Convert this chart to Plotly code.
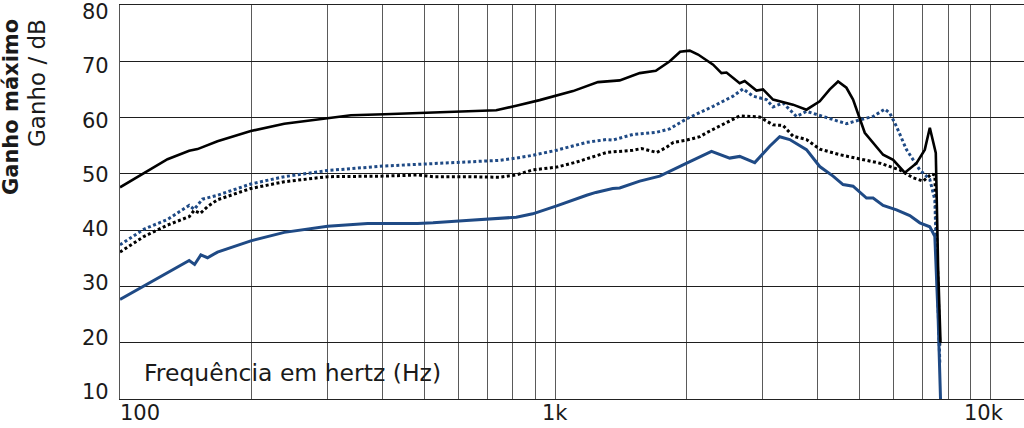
import math
import plotly.graph_objects as go

# ---------------- data ----------------
# Black solid curve
f_black_solid = [100, 113.7, 128.6, 144.2, 150.7, 167.5, 199.8, 238.5, 300, 339.4, 405, 483,
                 524, 625, 732, 814, 921, 1099, 1254, 1407, 1564, 1703, 1834, 1937, 2038, 2130,
                 2307, 2411, 2476, 2655, 2726, 2901, 3004, 3167, 3520, 3780, 4055, 4276, 4468,
                 4670, 4837, 5146, 5378, 5670, 5979, 6359, 6766, 7070, 7260, 7493, 7585, 7683]
g_black_solid = [47.6, 50.2, 52.6, 54.1, 54.4, 55.8, 57.6, 58.9, 59.9, 60.4, 60.6, 60.8,
                 61.0, 61.2, 61.3, 62.1, 63.1, 64.7, 66.3, 66.6, 67.9, 68.3, 70.0, 71.7, 71.9, 71.2,
                 69.4, 67.9, 68.0, 66.1, 66.5, 64.8, 65.0, 63.2, 62.3, 61.4, 62.9, 65.0, 66.4,
                 65.3, 63.2, 57.3, 55.5, 53.4, 52.5, 50.2, 51.9, 54.3, 58.2, 53.7, 33.6, 20.0]

# Blue dotted curve
f_blue_dot = [100, 113.7, 128.6, 144.2, 148.1, 154.7, 167.5, 199.8, 238.5, 300, 405, 483, 524,
              625, 745, 814, 888, 1008, 1181, 1313, 1356, 1508, 1712, 1834, 2006, 2307, 2563,
              2702, 2849, 3058, 3167, 3339, 3584, 3780, 4127, 4670, 5012, 5378, 5721, 5875,
              6087, 6417, 6885, 7260, 7455, 7654]
g_blue_dot = [37.4, 40.2, 41.9, 44.4, 43.7, 45.5, 46.2, 48.2, 49.5, 50.6, 51.4, 51.7, 51.9,
              52.2, 52.4, 52.8, 53.3, 54.2, 55.6, 56.1, 56.0, 57.0, 57.4, 58.0, 59.8, 62.0, 63.8,
              65.1, 63.8, 63.2, 61.9, 62.6, 60.2, 61.1, 60.2, 58.9, 59.6, 60.2, 61.5, 60.8,
              58.4, 54.3, 50.7, 49.0, 45.4, 16.4]

# Black dotted curve
f_black_dot = [100, 113.7, 128.6, 144.2, 148, 153, 159, 167.5, 199.8, 238.5, 300, 405, 483,
               524, 625, 745, 814, 888, 1008, 1120, 1313, 1508, 1580, 1712, 1800, 1870, 2006,
               2150, 2227, 2655, 2952, 3167, 3339, 3520, 3780, 4055, 4508, 5012, 5572, 6194,
               6645, 7007, 7325, 7455, 7654]
g_black_dot = [36.1, 38.9, 40.9, 42.4, 43.5, 43.0, 44.2, 45.4, 47.4, 48.6, 49.5, 49.6, 49.8,
               49.5, 49.5, 49.4, 49.8, 50.7, 51.2, 52.1, 53.8, 54.2, 54.5, 53.8, 54.7, 55.6, 56.0,
               56.6, 57.3, 60.3, 60.1, 58.7, 58.6, 56.7, 56.1, 54.4, 53.4, 52.6, 51.9, 50.7,
               49.3, 48.7, 50.0, 49.8, 19.4]

# Blue solid curve
f_blue_solid = [100, 113.7, 128.6, 144.2, 148.4, 153.4, 158.9, 167.5, 199.8, 238.5, 300, 370.7,
                483, 524, 625, 732, 814, 888, 1008, 1181, 1240, 1356, 1407, 1564, 1739, 2006,
                2287, 2518, 2655, 2875, 3112, 3281, 3459, 3780, 4055, 4351, 4587, 4837, 5193,
                5378, 5670, 6087, 6530, 6885, 7260, 7455, 7585, 7683]
g_blue_solid = [27.7, 30.1, 32.5, 34.6, 33.9, 35.6, 35.1, 36.1, 38.1, 39.6, 40.7, 41.2,
                41.2, 41.3, 41.7, 42.0, 42.3, 42.9, 44.3, 46.2, 46.7, 47.4, 47.5, 48.7, 49.6, 51.9,
                54.0, 52.8, 53.1, 52.0, 54.9, 56.6, 56.1, 54.3, 51.3, 49.6, 48.1, 47.8, 45.7,
                45.7, 44.4, 43.6, 42.6, 41.3, 40.6, 38.9, 24.7, 10.0]

grid_freqs = [100, 200, 300, 400, 500, 600, 700, 800, 900,
              1000, 2000, 3000, 4000, 5000, 6000, 7000, 8000, 9000, 10000]
x_tick_vals = [100, 1000, 10000]
x_tick_text = ["100", "1k", "10k"]
y_ticks = [10, 20, 30, 40, 50, 60, 70, 80]
x_max = 11950
box_right_freq = 600

y_title_bold = "Ganho máximo"
y_title = "Ganho / dB"
box_label = "Frequência em hertz (Hz)"

# ---------------- style ----------------
BLUE = "#1f4a85"
BLACK = "#000000"
FONT = "DejaVu Sans"
TICK_SIZE = 21
TXT = "#1a1a1a"

fig = go.Figure()
fig.add_trace(go.Scatter(x=f_black_dot, y=g_black_dot, mode="lines",
                         line=dict(color=BLACK, width=3, dash="3px,2.5px")))
fig.add_trace(go.Scatter(x=f_blue_dot, y=g_blue_dot, mode="lines",
                         line=dict(color=BLUE, width=3, dash="3px,2.5px")))
fig.add_trace(go.Scatter(x=f_blue_solid, y=g_blue_solid, mode="lines",
                         line=dict(color=BLUE, width=3)))
fig.add_trace(go.Scatter(x=f_black_solid, y=g_black_solid, mode="lines",
                         line=dict(color=BLACK, width=2.6)))

fig.update_xaxes(type="log", range=[2, math.log10(x_max)],
                 tickvals=grid_freqs, showticklabels=False, ticks="",
                 showgrid=True, gridcolor="#5a5a5a", gridwidth=1.3,
                 showline=True, mirror=True, linecolor="#222", linewidth=1.3,
                 zeroline=False)
fig.update_yaxes(range=[10, 80], tickvals=y_ticks, showticklabels=False, ticks="",
                 showgrid=True, gridcolor="#1e1e1e", gridwidth=1.3,
                 showline=True, linecolor="#555", linewidth=1.3, zeroline=False)

annotations = []
# y tick labels (slightly compressed spacing as in the reference)
for v in y_ticks:
    annotations.append(dict(x=0, xref="paper", xanchor="right", xshift=-10,
                            y=v, yref="y", yanchor="middle", yshift=-(v - 45) * 0.2,
                            text=str(v), showarrow=False, borderpad=0,
                            font=dict(family=FONT, size=TICK_SIZE, color=TXT)))
# x tick labels
x_anchor = {"100": ("left", -1), "1k": ("center", 0), "10k": ("center", -6)}
for v, t in zip(x_tick_vals, x_tick_text):
    anc, sh = x_anchor[t]
    annotations.append(dict(x=math.log10(v), xref="x", xanchor=anc, xshift=sh,
                            y=0, yref="paper", yanchor="top", yshift=-1,
                            text=t, showarrow=False, borderpad=0,
                            font=dict(family=FONT, size=TICK_SIZE, color=TXT)))
# y axis titles
annotations.append(dict(x=0, xref="paper", xshift=-109, xanchor="center",
                        y=1, yref="paper", yshift=-12, yanchor="top",
                        text="<b>" + y_title_bold + "</b>", textangle=-90, showarrow=False,
                        font=dict(family=FONT, size=21, color=TXT)))
annotations.append(dict(x=0, xref="paper", xshift=-83, xanchor="center",
                        y=1, yref="paper", yshift=-12, yanchor="top",
                        text=y_title, textangle=-90, showarrow=False,
                        font=dict(family=FONT, size=23, color=TXT)))
# box label
annotations.append(dict(x=0, xref="paper", xshift=22, xanchor="left",
                        y=0, yref="paper", yshift=26, yanchor="middle",
                        text=box_label, showarrow=False,
                        font=dict(family=FONT, size=23.5, color=TXT)))

shapes = [dict(type="rect", xref="x", yref="y", x0=2, x1=math.log10(box_right_freq),
               y0=10, y1=20, line=dict(color="#111", width=1.5), fillcolor="white",
               layer="above")]

fig.update_layout(width=1024, height=428, margin=dict(l=120, r=0, t=5, b=29),
                  plot_bgcolor="white", paper_bgcolor="white", showlegend=False,
                  annotations=annotations, shapes=shapes)

fig.write_html("out.html", config={"displayModeBar": False},
               post_script="document.body.style.margin='0';document.body.style.overflow='hidden';")
